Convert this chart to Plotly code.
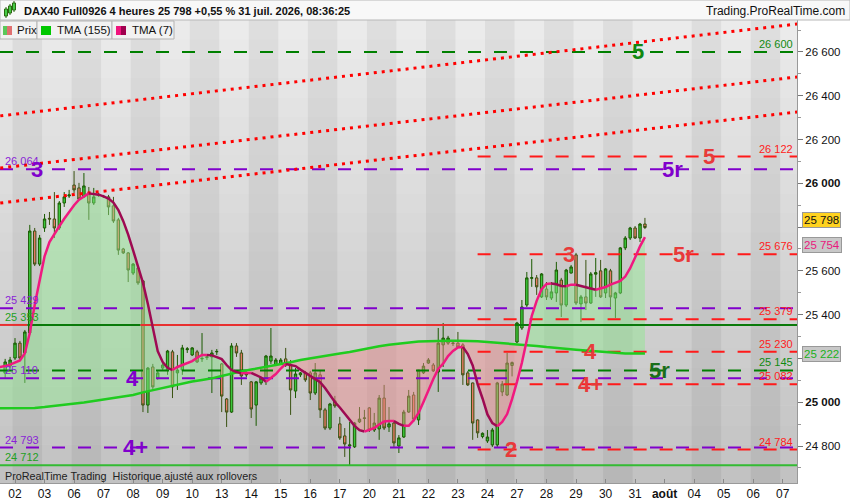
import plotly.graph_objects as go

# 4 heures, barre 0 = premiere barre du jeudi 02 juillet, 6 barres par seance
first_bar = -2
opens = [25133, 25165, 25202, 25270, 25225, 25316, 25782, 25631, 25796, 25840,
         25837, 25796, 25910, 25942, 25992, 25979, 25938, 25956, 25910, 25944,
         25938, 25938, 25897, 25833, 25700, 25682, 25590, 25613, 25554, 24987,
         25161, 25111, 25156, 25147, 25230, 25134, 25147, 25240, 25216, 25230,
         25198, 25204, 25207, 25230, 25175, 25015, 24955, 25257, 25225, 25125,
         25093, 24987, 25088, 25111, 25188, 25170, 25175, 25198, 25170, 25051,
         25125, 25134, 25134, 25042, 25125, 24965, 24882, 25006, 24901, 24846,
         24800, 24796, 24910, 24926, 24974, 24873, 24878, 25019, 24887, 24905,
         24800, 24841, 24955, 25033, 24919, 25134, 25179, 25170, 25138, 25262,
         25270, 25268, 25270, 25262, 25134, 25088, 24919, 24843, 24823, 24805,
         24805, 25047, 25033, 25168, 25275, 25339, 25444, 25566, 25568, 25481,
         25517, 25476, 25499, 25558, 25444, 25590, 25673, 25449, 25481, 25453,
         25585, 25600, 25499, 25600, 25476, 25499, 25705, 25750, 25796, 25750,
         25814]
highs = [25198, 25207, 25293, 25280, 25330, 25810, 25796, 25764, 25860, 25869,
         25960, 25919, 25960, 25970, 26056, 26002, 26047, 25983, 25979, 25956,
         25947, 25947, 25938, 25842, 25705, 25686, 25636, 25618, 25558, 25161,
         25175, 25143, 25179, 25239, 25239, 25216, 25262, 25252, 25252, 25239,
         25316, 25216, 25239, 25243, 25179, 25019, 25270, 25270, 25239, 25138,
         25097, 25097, 25115, 25216, 25339, 25202, 25202, 25248, 25193, 25156,
         25138, 25143, 25143, 25179, 25147, 24974, 24997, 25029, 24933, 24882,
         24910, 24910, 24978, 24965, 24978, 24951, 25033, 25079, 24978, 24919,
         24850, 24965, 25056, 25047, 25147, 25179, 25202, 25179, 25339, 25362,
         25303, 25275, 25321, 25270, 25143, 25090, 24922, 24862, 24873, 24882,
         25093, 25097, 25225, 25186, 25367, 25467, 25595, 25654, 25581, 25590,
         25549, 25549, 25641, 25568, 25609, 25627, 25682, 25490, 25650, 25595,
         25659, 25650, 25613, 25609, 25504, 25709, 25759, 25801, 25805, 25819,
         25842]
lows = [25111, 25156, 25193, 25193, 25088, 25307, 25622, 25622, 25778, 25810,
        25750, 25787, 25892, 25933, 25956, 25924, 25933, 25833, 25901, 25938,
        25933, 25855, 25819, 25673, 25677, 25549, 25581, 25536, 24955, 24951,
        25056, 25102, 25147, 25125, 25019, 25056, 25125, 25225, 25211, 25179,
        25184, 25193, 25042, 25216, 24955, 24887, 24951, 25207, 25079, 25115,
        24928, 24892, 25079, 25079, 25175, 25165, 25170, 25161, 24942, 25019,
        25115, 25093, 25010, 25033, 24928, 24873, 24873, 24974, 24828, 24750,
        24713, 24791, 24905, 24873, 24864, 24864, 24828, 24873, 24864, 24796,
        24768, 24837, 24951, 24910, 24896, 25129, 25175, 25138, 25047, 25161,
        25262, 25257, 25248, 25079, 25074, 24828, 24837, 24835, 24814, 24796,
        24796, 25028, 25028, 25118, 25270, 25330, 25435, 25527, 25490, 25476,
        25467, 25467, 25458, 25389, 25435, 25588, 25444, 25367, 25421, 25449,
        25481, 25476, 25476, 25435, 25385, 25494, 25695, 25741, 25746, 25732,
        25791]
closes = [25184, 25193, 25270, 25202, 25321, 25782, 25631, 25750, 25837, 25837,
          25796, 25910, 25938, 25947, 25970, 25928, 25988, 25910, 25938, 25949,
          25940, 25892, 25828, 25695, 25682, 25604, 25631, 25545, 24987, 25156,
          25070, 25134, 25170, 25234, 25070, 25147, 25248, 25244, 25248, 25184,
          25200, 25207, 25225, 25232, 25028, 24955, 25257, 25225, 25120, 25129,
          24969, 25093, 25111, 25211, 25211, 25193, 25193, 25170, 25056, 25129,
          25134, 25102, 25042, 25134, 24965, 24882, 24992, 24983, 24837, 24809,
          24805, 24905, 24923, 24928, 24873, 24905, 25019, 24882, 24901, 24814,
          24837, 24955, 25028, 24923, 25147, 25165, 25193, 25143, 25270, 25293,
          25293, 25270, 25252, 25125, 25079, 24905, 24860, 24858, 24841, 24873,
          25088, 25083, 25179, 25181, 25362, 25435, 25568, 25569, 25527, 25586,
          25481, 25504, 25604, 25444, 25604, 25618, 25453, 25481, 25453, 25586,
          25592, 25481, 25609, 25481, 25499, 25705, 25750, 25796, 25750, 25814,
          25798]

# seances affichees sur l'axe du temps (premiere barre = 6 * rang)
day_labels = ["02", "03", "06", "07", "08", "09", "10", "13", "14", "15", "16",
              "17", "20", "21", "22", "23", "24", "27", "28", "29", "30", "31",
              "août", "04", "05", "06", "07"]
day_numbers = [2, 3, 6, 7, 8, 9, 10, 13, 14, 15, 16, 17, 20, 21, 22, 23, 24,
               27, 28, 29, 30, 31, 3, 4, 5, 6, 7]
bars_per_day = 6

# TMA (7), une valeur par barre depuis la barre -4
tma7_start = -4
tma7 = [25158, 25161, 25165, 25172, 25182, 25191, 25224, 25316, 25444, 25560,
        25666, 25732, 25771, 25804, 25838, 25870, 25900, 25925, 25940, 25954,
        25950, 25948, 25940, 25930, 25912, 25878, 25827, 25766, 25694, 25621,
        25545, 25449, 25342, 25233, 25184, 25157, 25147, 25161, 25170, 25179,
        25188, 25203, 25216, 25216, 25214, 25206, 25197, 25170, 25147, 25138,
        25132, 25134, 25134, 25125, 25113, 25093, 25109, 25129, 25154, 25175,
        25170, 25165, 25149, 25135, 25124, 25110, 25092, 25065, 25033, 25001,
        24976, 24949, 24919, 24892, 24872, 24866, 24874, 24882, 24898, 24912,
        24914, 24914, 24901, 24892, 24892, 24917, 24951, 25001, 25058, 25106,
        25152, 25176, 25211, 25234, 25250, 25252, 25220, 25168, 25083, 25017,
        24944, 24905, 24890, 24910, 24946, 25014, 25093, 25180, 25284, 25394,
        25463, 25516, 25540, 25542, 25539, 25531, 25530, 25537, 25537, 25531,
        25524, 25517, 25514, 25520, 25526, 25537, 25546, 25554, 25574, 25612,
        25661, 25712, 25754]

# TMA (155), une valeur toutes les 2 barres depuis la barre -4
tma155_start = -4
tma155_step = 2
tma155 = [24972, 24972, 24972, 24972, 24974, 24978, 24983, 24986, 24992, 24999,
          25006, 25013, 25019, 25026, 25033, 25045, 25055, 25065, 25077, 25086,
          25095, 25102, 25109, 25120, 25131, 25141, 25149, 25157, 25165, 25173,
          25183, 25193, 25201, 25208, 25216, 25223, 25229, 25239, 25249, 25256,
          25263, 25268, 25274, 25277, 25279, 25281, 25281, 25281, 25281, 25279,
          25275, 25272, 25269, 25265, 25262, 25257, 25252, 25247, 25243, 25240,
          25236, 25232, 25228, 25225, 25223, 25222, 25222]

# niveaux horizontaux
purple_levels = [26064, 25429, 25110, 24793]
green_levels = [26600, 25145]
red_levels = [26122, 25676, 25379, 25230, 25082, 24784]
red_from_bar = 94
pivot_level = 25353
floor_level = 24712

# droites pointillees rouges (barre, prix) -> (barre, prix)
trend_lines = [(-3, 26308, 159, 26728), (-3, 26070, 159, 26486), (-3, 25910, 159, 26326)]

# reperes texte : texte, barre, niveau, couleur
marks = [("5", 126.6, 26600, "#118811"), ("5", 141, 26122, "#e83a3a"),
         ("5r", 133.5, 26064, "#8000cc"), ("3", 4.5, 26064, "#8000cc"),
         ("3", 112.6, 25676, "#e83a3a"), ("5r", 135.8, 25676, "#e83a3a"),
         ("4", 23.8, 25110, "#8000cc"), ("4+", 24.4, 24793, "#8000cc"),
         ("4", 116.9, 25230, "#e83a3a"), ("4+", 116.9, 25082, "#e83a3a"),
         ("5r", 130.9, 25145, "#1a6e1a"), ("2", 100.8, 24784, "#e83a3a")]

last_price = 25798

PURPLE = "#8000cc"
RED = "#ff1a1a"
DGREEN = "#008000"
FONT = "Arial, Liberation Sans, sans-serif"

x_min, x_max = -3.05, 158.9
y_min, y_max = 24631, 26746
PLOT_W, PLOT_H, TOP = 797, 463, 20


def fmt(v):
    return f"{v:,}".replace(",", " ")


def px(x):
    return x / PLOT_W


def py(y):
    return (TOP + PLOT_H - y) / PLOT_H


bars = list(range(first_bar, first_bar + len(closes)))
bars7 = list(range(tma7_start, tma7_start + len(tma7)))
bars155 = list(range(tma155_start, tma155_start + tma155_step * len(tma155), tma155_step))
t7 = dict(zip(bars7, tma7))
t155 = dict(zip(bars155, tma155))

fig = go.Figure()

# remplissage entre les deux moyennes
common = [b for b in bars155 if b in t7]
segments = []
start = common[0]
above = t7[start] >= t155[start]
for b in common[1:]:
    a = t7[b] >= t155[b]
    if a != above:
        segments.append((start, b, above))
        start, above = b, a
segments.append((start, common[-1], above))
for s, e, up in segments:
    xs = [b for b in bars7 if s <= b <= e]
    xb = [b for b in bars155 if s <= b <= e][::-1]
    fig.add_trace(go.Scatter(
        x=xs + xb, y=[t7[b] for b in xs] + [t155[b] for b in xb],
        fill="toself", mode="lines", line=dict(width=0),
        fillcolor="rgba(140,232,140,0.45)" if up else "rgba(240,140,140,0.45)",
        hoverinfo="skip", showlegend=False))


# niveaux
def hline(y, color, dash, x0=x_min, width=2):
    fig.add_trace(go.Scatter(x=[x0, x_max], y=[y, y], mode="lines",
                             line=dict(color=color, width=width, dash=dash),
                             hoverinfo="skip", showlegend=False))


for lv in purple_levels:
    hline(lv, PURPLE, "13px,13px")
for lv in green_levels:
    hline(lv, DGREEN, "13px,13px")
for lv in red_levels:
    hline(lv, RED, "13px,13px", x0=red_from_bar)
hline(floor_level, "#33bb33", "solid")

# pivot colore selon la cloture
runs = []
cur = closes[0] > pivot_level
seg_start = x_min
for b, c in zip(bars, closes):
    state = c > pivot_level
    if state != cur:
        runs.append((seg_start, b - 0.5, cur))
        seg_start, cur = b - 0.5, state
runs.append((seg_start, x_max, cur))
for x0, x1, up in runs:
    fig.add_trace(go.Scatter(x=[x0, x1], y=[pivot_level, pivot_level], mode="lines",
                             line=dict(color="#0a7a0a" if up else "#e83030", width=2),
                             hoverinfo="skip", showlegend=False))

for x0, y0, x1, y1 in trend_lines:
    fig.add_trace(go.Scatter(x=[x0, x1], y=[y0, y1], mode="lines",
                             line=dict(color="#ff0000", width=3, dash="3px,5px"),
                             hoverinfo="skip", showlegend=False))

fig.add_trace(go.Scatter(x=bars155, y=tma155, mode="lines",
                         line=dict(color="#1fcc1f", width=2.5),
                         hoverinfo="skip", showlegend=False))

fig.add_trace(go.Candlestick(
    x=bars, open=opens, high=highs, low=lows, close=closes,
    increasing=dict(line=dict(color="#1a5a00", width=1), fillcolor="#3cc83c"),
    decreasing=dict(line=dict(color="#3a5212", width=1), fillcolor="#e67a64"),
    whiskerwidth=0, showlegend=False, hoverinfo="skip"))

# TMA 7 : rose en hausse, bordeaux en baisse
k0 = 0
pieces = []
for k in range(1, len(tma7) - 1):
    if (tma7[k + 1] >= tma7[k]) != (tma7[k] >= tma7[k - 1]):
        pieces.append((k0, k))
        k0 = k
pieces.append((k0, len(tma7) - 1))
for a, b in pieces:
    rising = tma7[b] >= tma7[a]
    fig.add_trace(go.Scatter(x=bars7[a:b + 1], y=tma7[a:b + 1], mode="lines",
                             line=dict(color="#f0197f" if rising else "#9e0a52", width=2.5),
                             hoverinfo="skip", showlegend=False))

shapes = []
# fond degrade
n = 24
for k in range(n):
    shapes.append(dict(type="rect", xref="paper", yref="paper", x0=0, x1=1,
                       y0=k / n, y1=(k + 1) / n, layer="below", line=dict(width=0),
                       fillcolor="black", opacity=0.18 * (1 - (k + 0.5) / n)))
# bandes des seances (jours pairs plus sombres)
for d, num in enumerate(day_numbers):
    if num % 2 == 0:
        shapes.append(dict(type="rect", xref="x", yref="paper",
                           x0=d * bars_per_day - 0.5, x1=d * bars_per_day + 5.5,
                           y0=0, y1=1, layer="below", line=dict(width=0),
                           fillcolor="black", opacity=0.055))

# bandeau du haut
shapes.append(dict(type="rect", xref="paper", yref="paper", x0=px(0), x1=px(850),
                   y0=py(20), y1=py(0), fillcolor="#f8f8f8", line=dict(color="#b8b8b8", width=1)))
for cx, top, bot in [(6, 9, 16), (10, 6, 13), (14, 3, 10)]:
    shapes.append(dict(type="line", xref="paper", yref="paper", x0=px(cx), x1=px(cx),
                       y0=py(bot + 2), y1=py(top - 2), line=dict(color="#2a6a10", width=1)))
    shapes.append(dict(type="rect", xref="paper", yref="paper", x0=px(cx - 1.5), x1=px(cx + 1.5),
                       y0=py(bot), y1=py(top), fillcolor="#46cc46", line=dict(color="#2a6a10", width=1)))

# legende
for x0, x1 in [(0, 37), (37, 112), (112, 174)]:
    shapes.append(dict(type="rect", xref="paper", yref="paper", x0=px(x0), x1=px(x1),
                       y0=py(39), y1=py(21), fillcolor="#f2f2f2", line=dict(color="#b4b4b4", width=1)))
for x0, x1, col in [(3, 7, "#5ac85a"), (7, 12, "#e07070"), (41, 51, "#00c800"),
                    (116, 121, "#f0147d"), (121, 126, "#a0004f")]:
    shapes.append(dict(type="rect", xref="paper", yref="paper", x0=px(x0), x1=px(x1),
                       y0=py(35), y1=py(26), fillcolor=col, line=dict(width=0)))

ann = []
ann.append(dict(text="<b>DAX40 Full0926 4 heures 25 798 +0,55 % 31 juil. 2026, 08:36:25</b>",
                xref="paper", yref="paper", x=px(22), y=py(11), xanchor="left", yanchor="middle",
                showarrow=False, font=dict(size=11, color="#111", family=FONT)))
ann.append(dict(text="Trading.ProRealTime.com", xref="paper", yref="paper", x=px(847), y=py(11),
                xanchor="right", yanchor="middle", showarrow=False,
                font=dict(size=12, color="#111", family=FONT)))
for txt, x0 in [("Prix", 15), ("TMA (155)", 55), ("TMA (7)", 130)]:
    ann.append(dict(text=txt, xref="paper", yref="paper", x=px(x0), y=py(30.5), xanchor="left",
                    yanchor="middle", showarrow=False, font=dict(size=11.5, color="#111", family=FONT)))
ann.append(dict(text="ProRealTime Trading  Historique ajusté aux rollovers", xref="paper", yref="paper",
                x=px(3), y=py(476), xanchor="left", yanchor="middle", showarrow=False,
                font=dict(size=10.8, color="#222", family=FONT)))

# etiquettes des niveaux
LBL = 11
for lv in purple_levels:
    ann.append(dict(text=fmt(lv), xref="paper", x=px(3), y=lv, xanchor="left", yanchor="middle",
                    yshift=8, showarrow=False, font=dict(size=LBL, color="#8a1fd6", family=FONT)))
for lv in [pivot_level, floor_level]:
    ann.append(dict(text=fmt(lv), xref="paper", x=px(3), y=lv, xanchor="left", yanchor="middle",
                    yshift=8, showarrow=False, font=dict(size=LBL, color="#22a022", family=FONT)))
for lv in green_levels:
    ann.append(dict(text=fmt(lv), xref="paper", x=px(795), y=lv, xanchor="right", yanchor="middle",
                    yshift=8, showarrow=False, font=dict(size=LBL, color="#108a10", family=FONT)))
for lv in red_levels:
    ann.append(dict(text=fmt(lv), xref="paper", x=px(795), y=lv, xanchor="right", yanchor="middle",
                    yshift=8, showarrow=False, font=dict(size=LBL, color="#ff2020", family=FONT)))

for txt, bx, lv, col in marks:
    ann.append(dict(text=f"<b>{txt}</b>", x=bx, y=lv, xanchor="center", yanchor="middle",
                    showarrow=False, font=dict(size=22, color=col, family=FONT)))

# valeurs sur l'axe des prix
for val, col, bg, shift in [(last_price, "#111", "#ffd21f", 8), (tma7[-1], "#e8197d", "#c8c8c8", -8),
                            (tma155[-1], "#20b020", "#c8c8c8", 0)]:
    ann.append(dict(text=fmt(val), xref="paper", x=1, y=val, xanchor="left", yanchor="middle",
                    xshift=5, yshift=shift, showarrow=False, bgcolor=bg, bordercolor="#999",
                    borderwidth=1, borderpad=1, font=dict(size=11.5, color=col, family=FONT)))

# graduations : 25 800 et 25 200 sont masquees par les etiquettes de valeur
ytick_vals = list(range(24800, 26601, 200))
ytick_text = []
for v in ytick_vals:
    if v in (25800, 25200):
        ytick_text.append("")
    elif v % 1000 == 0:
        ytick_text.append(f"<b>{fmt(v)}</b>")
    else:
        ytick_text.append(fmt(v))
xtick_vals = [d * bars_per_day for d in range(len(day_labels))]
xtick_text = [f"<b>{t}</b>" if not t.isdigit() else t for t in day_labels]

fig.update_layout(
    width=850, height=500,
    margin=dict(l=0, r=53, t=TOP, b=17),
    paper_bgcolor="white", plot_bgcolor="#ececec",
    showlegend=False,
    shapes=shapes, annotations=ann,
    font=dict(family=FONT, size=12, color="#111"),
    xaxis=dict(range=[x_min, x_max], type="linear", tickvals=xtick_vals, ticktext=xtick_text,
               ticks="inside", ticklen=4, tickcolor="#888", showgrid=False, zeroline=False,
               showline=True, linecolor="#999", rangeslider=dict(visible=False),
               tickfont=dict(size=12, family=FONT, color="#111")),
    yaxis=dict(range=[y_min, y_max], side="right", tickvals=ytick_vals, ticktext=ytick_text,
               ticks="outside", ticklen=5, tickcolor="#777", showgrid=False, zeroline=False,
               showline=True, linecolor="#999",
               minor=dict(tickmode="linear", tick0=24700, dtick=100, ticks="outside", ticklen=3,
                          tickcolor="#999", showgrid=False),
               tickfont=dict(size=11.5, family=FONT, color="#111")),
)

fig.write_html("out.html", config={"displayModeBar": False},
               post_script="document.body.style.margin='0';")
